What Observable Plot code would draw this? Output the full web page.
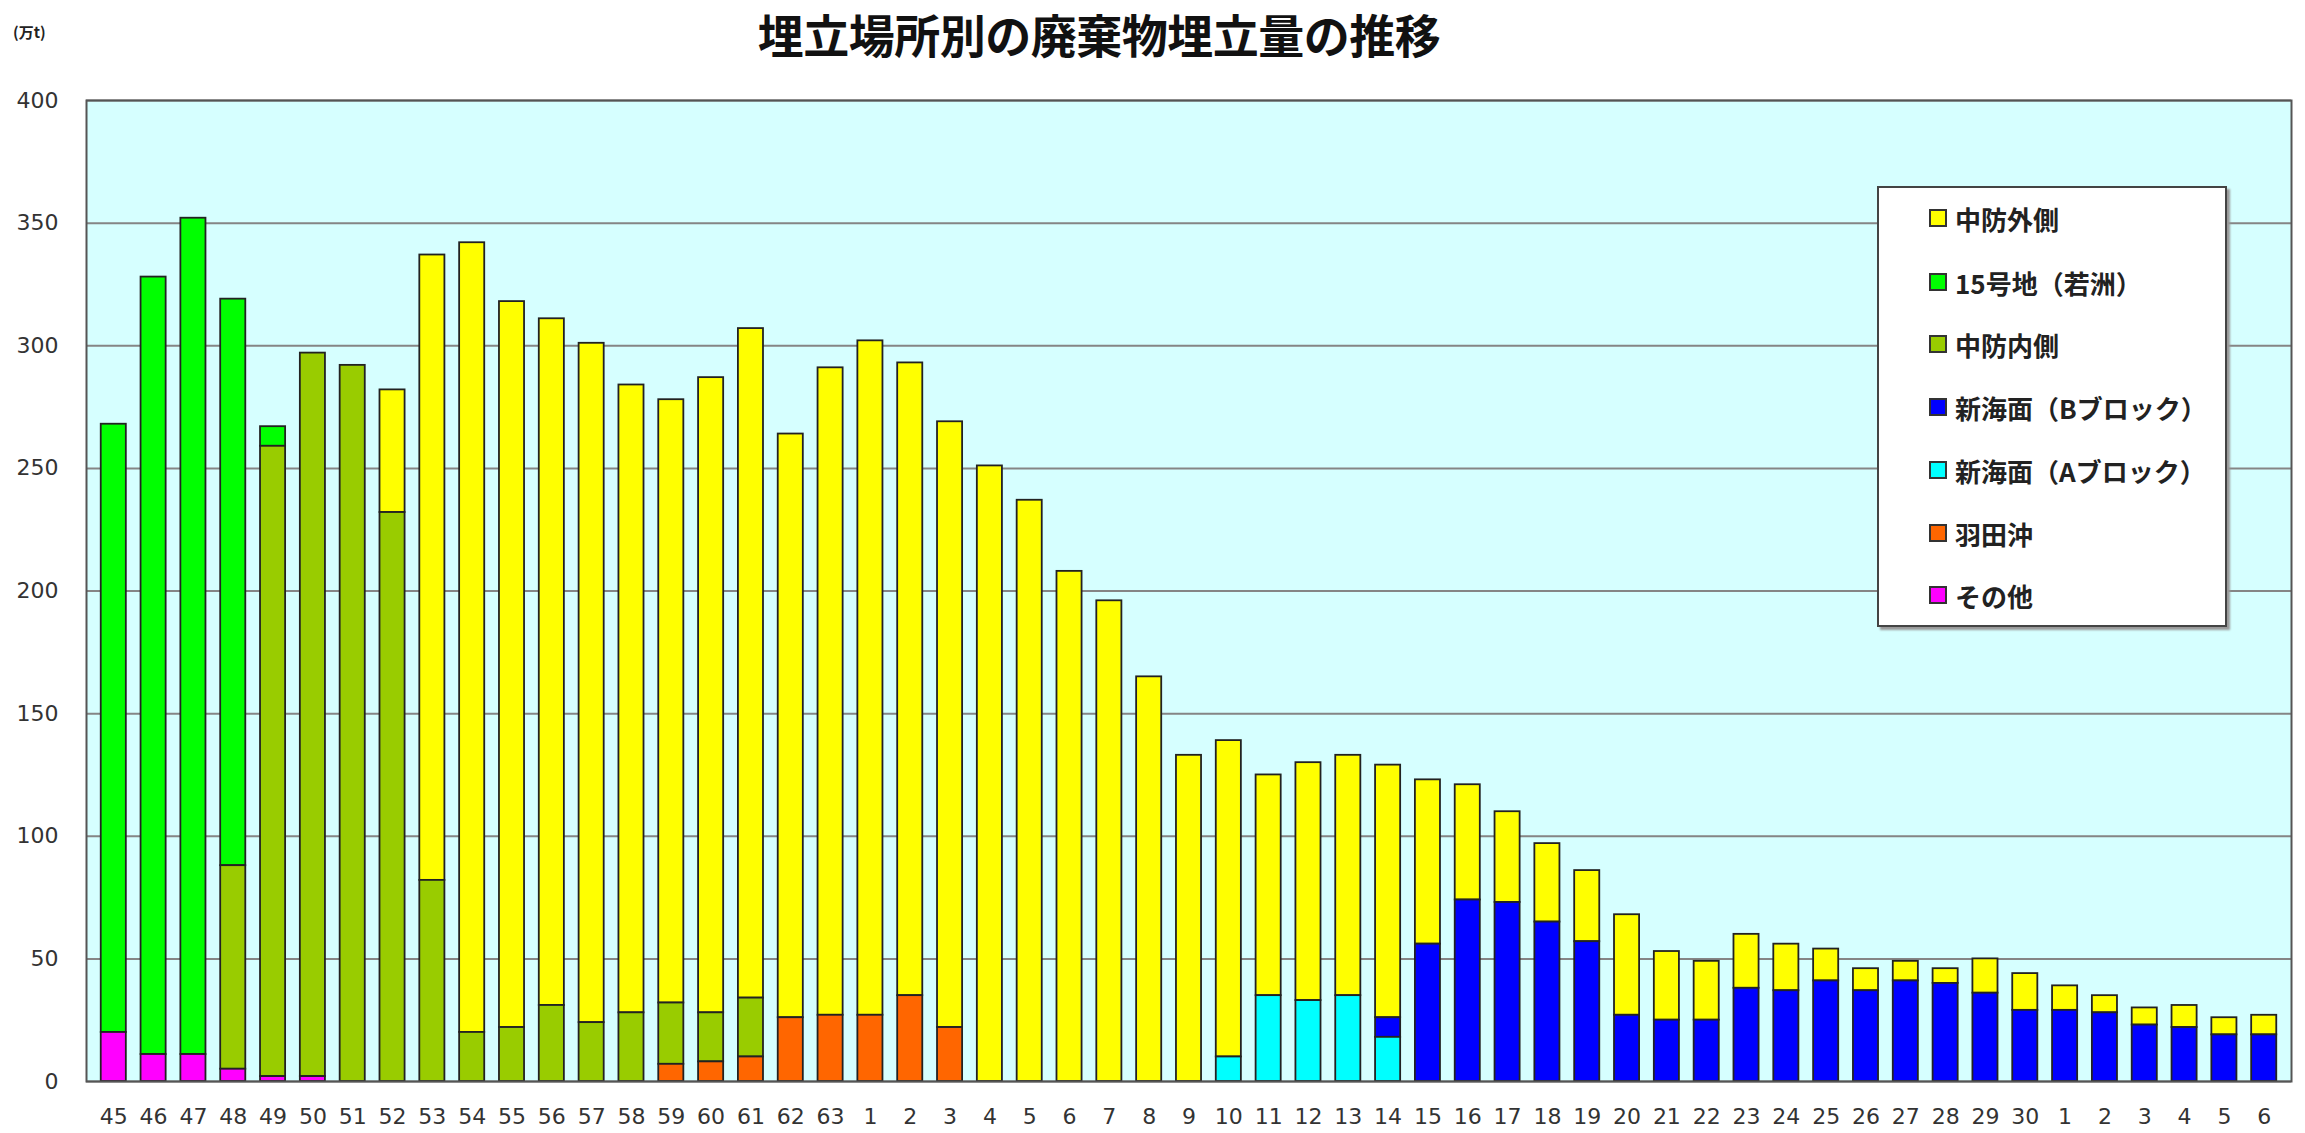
<!DOCTYPE html>
<html><head><meta charset="utf-8">
<script src="https://cdn.jsdelivr.net/npm/d3@7"></script>
<script src="https://cdn.jsdelivr.net/npm/@observablehq/plot@0.6"></script>
<style>
body{margin:0;background:#fff;font-family:"Noto Sans CJK JP",sans-serif;}
#wrap{position:relative;width:2305px;height:1133px;overflow:hidden;}
#title{position:absolute;left:0;width:2198px;top:0px;text-align:center;font-size:46px;font-weight:bold;line-height:normal;color:#111;letter-spacing:-0.5px;}
#unit{position:absolute;left:13px;top:22px;font-size:15px;line-height:20px;color:#222;font-weight:bold;}
#chart{position:absolute;left:0;top:70px;}
#legend{position:absolute;left:1877px;top:186px;width:346px;height:437px;background:#fff;border:2px solid #444;box-shadow:3px 3px 2px #999;}
.item{position:absolute;left:50px;height:40px;display:flex;align-items:center;font-size:26px;font-weight:bold;color:#222;white-space:nowrap;}
.sw{width:14px;height:14px;border:2px solid #333;margin-right:8px;flex:none;}
</style></head>
<body>
<div id="wrap">
  <div id="title"></div>
  <div id="unit"></div>
  <div id="chart"></div>
  <div id="legend"></div>
</div>
<script>
const titleText = "埋立場所別の廃棄物埋立量の推移";
const unitText = "(万t)";
const labels = ["45","46","47","48","49","50","51","52","53","54","55","56","57","58","59","60","61","62","63",
  "1","2","3","4","5","6","7","8","9","10","11","12","13","14","15","16","17","18","19","20","21","22","23","24","25","26","27","28","29","30",
  "1","2","3","4","5","6"];
const yTicks = [0,50,100,150,200,250,300,350,400];

// series (legend order, top of stack first)
const seriesNames = ["中防外側","15号地（若洲）","中防内側","新海面（Bブロック）","新海面（Aブロック）","羽田沖","その他"];
const seriesColors = ["#FFFF00","#00FF00","#99CC00","#0000FF","#00FFFF","#FF6600","#FF00FF"];
const stackOrder = ["その他","羽田沖","新海面（Aブロック）","新海面（Bブロック）","中防内側","15号地（若洲）","中防外側"];

const chuboSoto = [0,0,0,0,0,0,0,50,255,322,296,280,277,256,246,259,273,238,264,
  275,258,247,251,237,208,196,165,133,129,90,97,98,103,67,47,37,32,29,41,28,24,22,19,13,9,8,6,14,15,
  10,7,7,9,7,8];
const wakasu = [248,317,341,231,8,0,0,0,0,0,0,0,0,0,0,0,0,0,0,
  0,0,0,0,0,0,0,0,0,0,0,0,0,0,0,0,0,0,0,0,0,0,0,0,0,0,0,0,0,0,
  0,0,0,0,0,0];
const chuboUchi = [0,0,0,83,257,295,292,232,82,20,22,31,24,28,25,20,24,0,0,
  0,0,0,0,0,0,0,0,0,0,0,0,0,0,0,0,0,0,0,0,0,0,0,0,0,0,0,0,0,0,
  0,0,0,0,0,0];
const shinB = [0,0,0,0,0,0,0,0,0,0,0,0,0,0,0,0,0,0,0,
  0,0,0,0,0,0,0,0,0,0,0,0,0,8,56,74,73,65,57,27,25,25,38,37,41,37,41,40,36,29,
  29,28,23,22,19,19];
const shinA = [0,0,0,0,0,0,0,0,0,0,0,0,0,0,0,0,0,0,0,
  0,0,0,0,0,0,0,0,0,10,35,33,35,18,0,0,0,0,0,0,0,0,0,0,0,0,0,0,0,0,
  0,0,0,0,0,0];
const haneda = [0,0,0,0,0,0,0,0,0,0,0,0,0,0,7,8,10,26,27,
  27,35,22,0,0,0,0,0,0,0,0,0,0,0,0,0,0,0,0,0,0,0,0,0,0,0,0,0,0,0,
  0,0,0,0,0,0];
const sonota = [20,11,11,5,2,2,0,0,0,0,0,0,0,0,0,0,0,0,0,
  0,0,0,0,0,0,0,0,0,0,0,0,0,0,0,0,0,0,0,0,0,0,0,0,0,0,0,0,0,0,
  0,0,0,0,0,0];

const seriesValues = [chuboSoto, wakasu, chuboUchi, shinB, shinA, haneda, sonota];
const rows = [];
seriesNames.forEach((name, s) => {
  seriesValues[s].forEach((v, i) => { if (v > 0) rows.push({i, series: name, value: v}); });
});

document.getElementById("title").textContent = titleText;
document.getElementById("unit").textContent = unitText;

const chart = Plot.plot({
  width: 2305, height: 1063,
  marginTop: 30, marginBottom: 52, marginLeft: 86, marginRight: 14,
  style: {fontFamily: "DejaVu Sans, sans-serif", fontSize: "22px", color: "#333", background: "transparent", overflow: "visible"},
  x: {type: "band", domain: d3.range(labels.length), padding: 0.37, tickFormat: i => labels[i], tickSize: 0, tickPadding: 27, label: null},
  y: {domain: [0, 400], ticks: yTicks, tickSize: 0, tickPadding: 28, label: null},
  color: {domain: seriesNames, range: seriesColors},
  marks: [
    Plot.frame({fill: "#D6FFFF", stroke: null}),
    Plot.gridY(yTicks, {stroke: "#858585", strokeOpacity: 1, strokeWidth: 2}),
    Plot.barY(rows, Plot.stackY({order: stackOrder}, {x: "i", y: "value", fill: "series", stroke: "#222", strokeWidth: 1.8})),
    Plot.frame({stroke: "#555", strokeWidth: 2})
  ]
});
document.getElementById("chart").appendChild(chart);

const legend = document.getElementById("legend");
const itemY = [218, 282, 344, 407, 470, 533, 595];
seriesNames.forEach((name, k) => {
  const d = document.createElement("div");
  d.className = "item";
  d.style.top = (itemY[k] - 186 - 2 - 20) + "px";
  const sw = document.createElement("span");
  sw.className = "sw";
  sw.style.background = seriesColors[k];
  const t = document.createElement("span");
  t.textContent = name;
  d.appendChild(sw); d.appendChild(t);
  legend.appendChild(d);
});
</script>
</body></html>
